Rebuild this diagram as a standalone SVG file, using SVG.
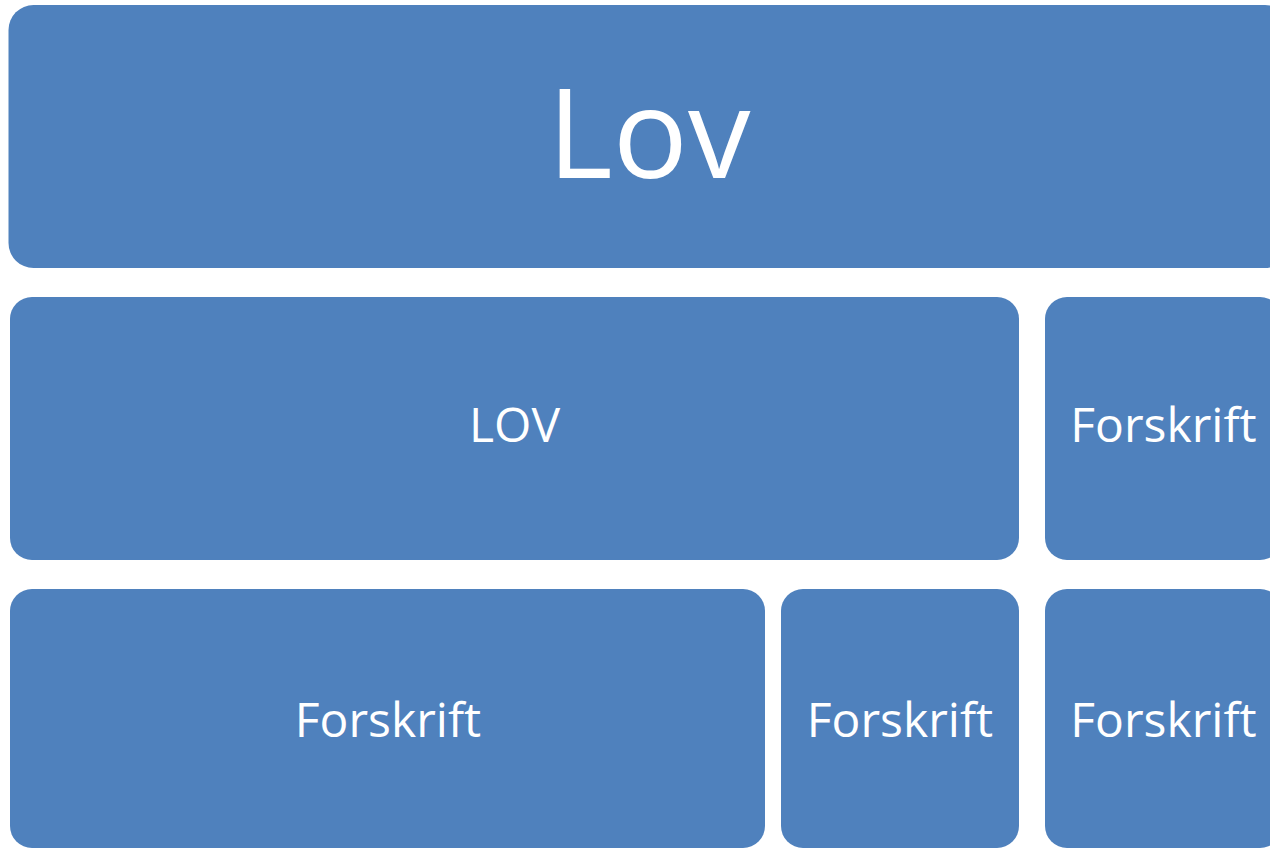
<svg xmlns="http://www.w3.org/2000/svg" width="1270" height="849" viewBox="0 0 1270 849">
<style>
.box{fill:#4F81BD}
.t{fill:#ffffff;font-family:"Open Sans","Noto Sans","Liberation Sans",sans-serif;text-anchor:middle}
.s{font-size:48px}
.b{font-size:125px}
</style>
<rect width="1270" height="849" fill="#ffffff"/>
<g id="lov-top">
<rect class="box" x="8.5" y="5" width="1281.5" height="263" rx="25" ry="25"/>
<text class="t b" x="649" y="178">Lov</text>
</g>
<g id="lov-row2">
<rect class="box" x="10" y="297" width="1009" height="263" rx="22" ry="22"/>
<text class="t s" x="514.5" y="442">LOV</text>
</g>
<g id="forskrift-row2">
<rect class="box" x="1045" y="297" width="237" height="263" rx="22" ry="22"/>
<text class="t s" x="1163.5" y="442">Forskrift</text>
</g>
<g id="forskrift-row3-left">
<rect class="box" x="10" y="589" width="755" height="259" rx="22" ry="22"/>
<text class="t s" x="388" y="737">Forskrift</text>
</g>
<g id="forskrift-row3-mid">
<rect class="box" x="781" y="589" width="238" height="259" rx="22" ry="22"/>
<text class="t s" x="900" y="737">Forskrift</text>
</g>
<g id="forskrift-row3-right">
<rect class="box" x="1045" y="589" width="237" height="259" rx="22" ry="22"/>
<text class="t s" x="1163.5" y="737">Forskrift</text>
</g>
<g id="connectors"></g>
</svg>
